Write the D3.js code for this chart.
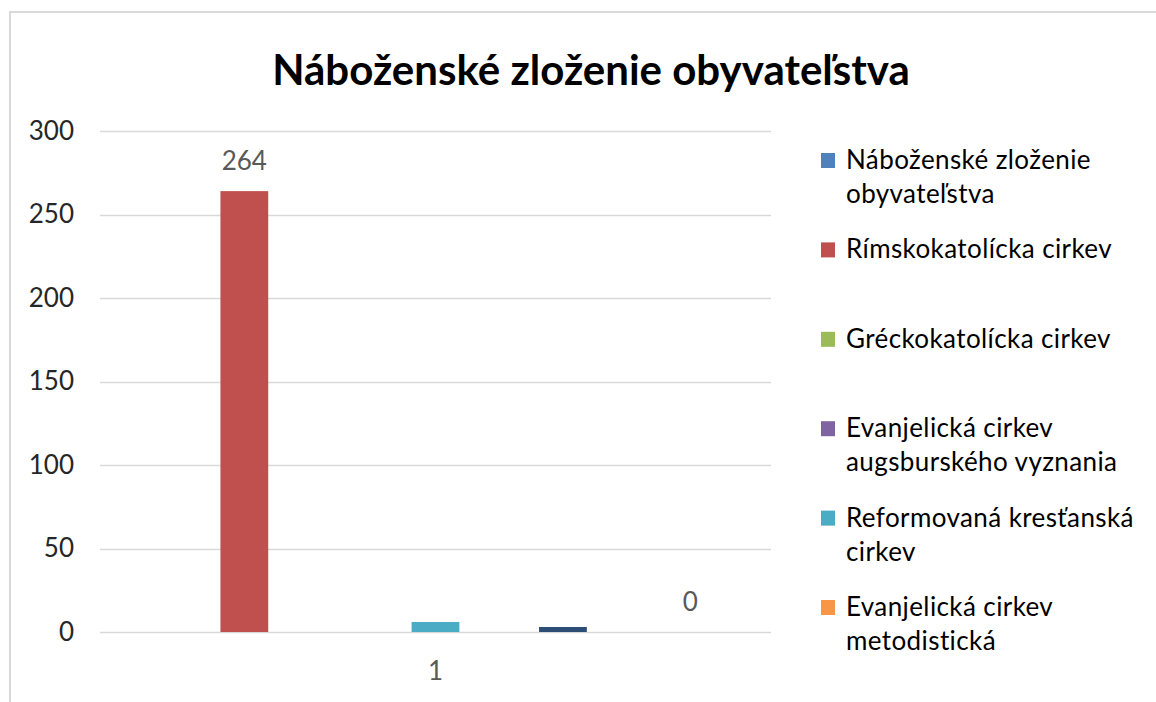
<!DOCTYPE html>
<html><head><meta charset="utf-8">
<script src="https://cdn.jsdelivr.net/npm/d3@7"></script>
<style>body{margin:0;background:#fff}svg{display:block}</style>
</head><body><svg id="c" width="1156" height="702"></svg>
<script>
const title = "Náboženské zloženie obyvateľstva";
const categories = ["1"];
const seriesNames = [
  "Náboženské zloženie obyvateľstva",
  "Rímskokatolícka cirkev",
  "Gréckokatolícka cirkev",
  "Evanjelická cirkev augsburského vyznania",
  "Reformovaná kresťanská cirkev",
  "Evanjelická cirkev metodistická",
  "Ostatné",
  "Bez vyznania",
  "Nezistené"
];
const seriesColors = ["#4F81BD","#C0504D","#9BBB59","#8064A2","#4BACC6","#F79646","#2C4D75","#772C2A","#5F7530"];
const seriesValues = [null, 264, null, null, 6, null, 3, null, 0];
const labeledSeries = ["Rímskokatolícka cirkev", "Nezistené"];
const legendShown = 6;
const yTicks = [0, 50, 100, 150, 200, 250, 300];

const FONT = "Lato, 'Open Sans', sans-serif";
const svg = d3.select("#c");

// frame
svg.append("path").attr("d","M10,702 L10,12 L1156,12").attr("fill","none").attr("stroke","#d9d9d9").attr("stroke-width",2);

const plot = {left:100, right:771, top:131, bottom:632};
const y = d3.scaleLinear().domain([0,300]).range([plot.bottom, plot.top]);
const x0 = d3.scaleBand().domain(categories).range([plot.left, plot.right]);
const x1 = d3.scaleBand().domain(seriesNames).range([0, x0.bandwidth()]).paddingInner(0.25).paddingOuter(0.89);

// title
svg.append("text").attr("x",591).attr("y",85).attr("text-anchor","middle")
  .attr("font-family",FONT).attr("font-weight","bold").attr("font-size",42).attr("fill","#000").text(title);

// grid
svg.append("g").selectAll("line").data(yTicks).join("line")
  .attr("x1",plot.left).attr("x2",plot.right)
  .attr("y1",d=>Math.round(y(d))+0.5).attr("y2",d=>Math.round(y(d))+0.5)
  .attr("stroke","#d9d9d9").attr("stroke-width",1.5);

// y axis labels
const yAxis = d3.axisLeft(y).tickValues(yTicks).tickSize(0).tickPadding(0);
const ya = svg.append("g").attr("transform",`translate(74,0)`).call(yAxis);
ya.select(".domain").remove();
ya.selectAll("text").attr("font-family",FONT).attr("font-size",26).attr("fill","#262626");

// bars
const g = svg.append("g");
categories.forEach(cat=>{
  const data = seriesNames.map((s,i)=>({s, v:seriesValues[i], c:seriesColors[i]}));
  g.selectAll("rect.b").data(data.filter(d=>d.v!=null && d.v>0)).join("rect")
    .attr("x",d=>x0(cat)+x1(d.s)).attr("width",x1.bandwidth())
    .attr("y",d=>y(d.v)).attr("height",d=>y(0)-y(d.v)).attr("fill",d=>d.c);
  g.selectAll("text.l").data(data.filter(d=>labeledSeries.includes(d.s))).join("text")
    .attr("x",d=>x0(cat)+x1(d.s)+x1.bandwidth()/2).attr("y",d=>y(d.v)-30.5)
    .attr("text-anchor","middle").attr("dy","0.35em").attr("font-family",FONT).attr("font-size",26).attr("fill","#595959")
    .text(d=>d.v);
});

// x axis labels
const xAxis = d3.axisBottom(x0).tickSize(0).tickPadding(0);
const xa = svg.append("g").attr("transform",`translate(0,${plot.bottom+39})`).call(xAxis);
xa.select(".domain").remove();
xa.selectAll("text").attr("font-family",FONT).attr("font-size",26).attr("fill","#595959").attr("dy","0.35em");

// legend
const lg = svg.append("g");
const maxW = 305;
seriesNames.slice(0,legendShown).forEach((name,i)=>{
  const cy = 160.5 + i*89.4;
  lg.append("rect").attr("x",821).attr("y",cy-7.5).attr("width",14).attr("height",15).attr("fill",seriesColors[i]);
  const t = lg.append("text").attr("font-family",FONT).attr("font-size",26).attr("letter-spacing",0.4).attr("fill","#000");
  const words = name.split(" ");
  let line = [], lineNo = 0;
  let ts = t.append("tspan").attr("x",846).attr("y",cy).attr("dy","0.33em");
  words.forEach(w=>{
    line.push(w); ts.text(line.join(" "));
    if (ts.node().getComputedTextLength() > maxW && line.length>1){
      line.pop(); ts.text(line.join(" "));
      line=[w]; lineNo++;
      ts = t.append("tspan").attr("x",846).attr("y",cy+lineNo*34).attr("dy","0.33em").text(w);
    }
  });
});
</script></body></html>
